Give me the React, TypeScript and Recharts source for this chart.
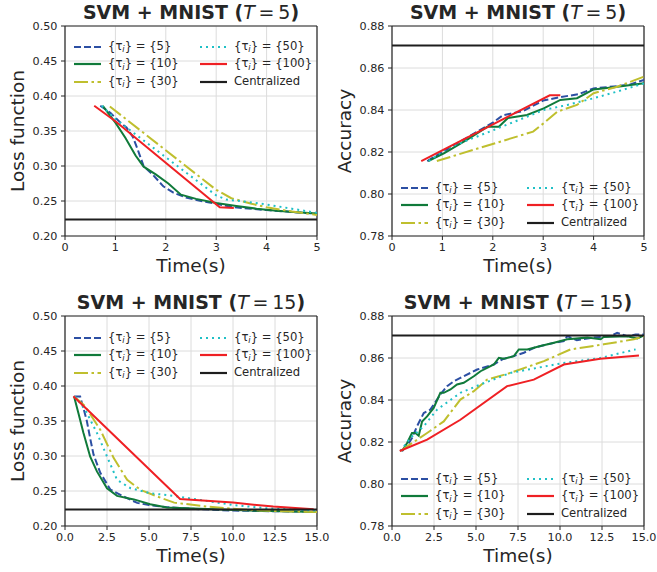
import {
  CartesianGrid,
  Legend,
  Line,
  LineChart,
  ReferenceLine,
  XAxis,
  YAxis,
} from "recharts";

type Pair = [number, number];

const shortTimeTicks = [0, 1, 2, 3, 4, 5];
const longTimeTicks = [0, 2.5, 5, 7.5, 10, 12.5, 15];
const lossTicks = [0.2, 0.25, 0.3, 0.35, 0.4, 0.45, 0.5];
const accTicks = [0.78, 0.8, 0.82, 0.84, 0.86, 0.88];
const tauLabels = ["5", "10", "30", "50", "100"];

const centralizedLoss = 0.2235;
const centralizedAcc = 0.8707;

// T = 5, loss
const lossT5Tau5: Pair[] = [[0.7, 0.386], [0.9, 0.376], [1.1, 0.362], [1.22, 0.355], [1.35, 0.341], [1.45, 0.322], [1.56, 0.3], [1.75, 0.287], [1.95, 0.271], [2.15, 0.262], [2.4, 0.255], [2.7, 0.25], [3.0, 0.246], [3.35, 0.241], [3.7, 0.239], [4.0, 0.237], [4.4, 0.235], [4.7, 0.233], [5.0, 0.232]];
const lossT5Tau10: Pair[] = [[0.75, 0.386], [1.0, 0.362], [1.2, 0.34], [1.4, 0.315], [1.56, 0.299], [1.8, 0.288], [2.05, 0.275], [2.3, 0.259], [2.6, 0.253], [3.0, 0.247], [3.4, 0.243], [3.8, 0.239], [4.2, 0.236], [4.6, 0.234], [5.0, 0.232]];
const lossT5Tau30: Pair[] = [[0.89, 0.385], [3.0, 0.266], [3.3, 0.254], [3.7, 0.246], [4.0, 0.241], [4.5, 0.235], [5.0, 0.23]];
const lossT5Tau50: Pair[] = [[0.73, 0.386], [1.0, 0.367], [3.0, 0.258], [3.2, 0.252], [3.6, 0.249], [4.0, 0.245], [4.5, 0.239], [5.0, 0.233]];
const lossT5Tau100: Pair[] = [[0.58, 0.386], [1.0, 0.364], [3.07, 0.241], [3.35, 0.24]];

// T = 5, accuracy
const accT5Tau5: Pair[] = [[0.7, 0.8157], [1.0, 0.82], [1.5, 0.827], [2.0, 0.834], [2.2, 0.8375], [2.6, 0.8395], [3.0, 0.8445], [3.35, 0.8462], [3.7, 0.8475], [4.0, 0.8503], [4.4, 0.8512], [4.7, 0.852], [5.0, 0.8543]];
const accT5Tau10: Pair[] = [[0.72, 0.8157], [1.03, 0.8194], [1.5, 0.826], [1.89, 0.832], [2.12, 0.832], [2.3, 0.8362], [2.68, 0.8376], [3.01, 0.8408], [3.34, 0.8448], [3.67, 0.8456], [4.0, 0.8498], [4.4, 0.8508], [5.0, 0.8527]];
const accT5Tau30: Pair[] = [[0.89, 0.8157], [2.8, 0.8297], [3.01, 0.8337], [3.28, 0.8392], [3.67, 0.8424], [4.0, 0.848], [4.47, 0.8511], [5.0, 0.8559]];
const accT5Tau50: Pair[] = [[0.73, 0.8157], [1.09, 0.8217], [2.02, 0.8305], [3.01, 0.84], [3.48, 0.8424], [4.0, 0.8456], [4.5, 0.849], [5.0, 0.8527]];
const accT5Tau100: Pair[] = [[0.58, 0.8157], [3.13, 0.847], [3.34, 0.847]];

// T = 15, loss
const lossT15Tau5: Pair[] = [[0.55, 0.385], [0.9, 0.385], [1.1, 0.368], [1.3, 0.35], [1.5, 0.325], [1.7, 0.302], [2.1, 0.276], [2.7, 0.252], [3.5, 0.242], [4.3, 0.233], [5.0, 0.23], [6.0, 0.227], [8.0, 0.224], [10.0, 0.222], [12.5, 0.221], [15.0, 0.2205]];
const lossT15Tau10: Pair[] = [[0.54, 0.385], [0.8, 0.361], [1.1, 0.333], [1.5, 0.299], [1.9, 0.278], [2.5, 0.254], [3.1, 0.243], [4.1, 0.238], [5.07, 0.231], [6.06, 0.2265], [8.05, 0.2245], [11.0, 0.222], [13.0, 0.221], [15.0, 0.22]];
const lossT15Tau30: Pair[] = [[0.55, 0.385], [1.2, 0.371], [2.1, 0.3375], [2.9, 0.297], [3.7, 0.2659], [4.5, 0.2516], [5.5, 0.242], [6.5, 0.2334], [8.45, 0.2277], [11.0, 0.2229], [13.0, 0.221], [15.0, 0.22]];
const lossT15Tau50: Pair[] = [[0.6, 0.385], [1.2, 0.366], [1.9, 0.333], [2.5, 0.2993], [3.1, 0.2659], [3.9, 0.254], [5.07, 0.2468], [6.5, 0.243], [8.05, 0.2372], [10.0, 0.23], [12.0, 0.2253], [15.0, 0.222]];
const lossT15Tau100: Pair[] = [[0.5, 0.3853], [6.85, 0.2387], [10.0, 0.2334], [12.4, 0.2277], [14.8, 0.2238]];

// T = 15, accuracy
const accT15Tau5: Pair[] = [[0.6, 0.8157], [1.0, 0.8195], [1.2, 0.822], [1.49, 0.8275], [1.89, 0.8338], [2.28, 0.8354], [2.88, 0.8426], [3.28, 0.8466], [3.7, 0.849], [4.07, 0.8505], [5.07, 0.8545], [6.06, 0.8569], [6.6, 0.8595], [7.25, 0.8609], [7.85, 0.8625], [8.5, 0.865], [9.24, 0.8665], [10.23, 0.8681], [10.43, 0.8704], [11.0, 0.8685], [12.0, 0.8697], [13.0, 0.8705], [13.4, 0.872], [14.0, 0.8704], [14.5, 0.8712], [15.0, 0.8712]];
const accT15Tau10: Pair[] = [[0.6, 0.8157], [0.9, 0.8195], [1.19, 0.8243], [1.39, 0.8243], [1.59, 0.823], [1.79, 0.8298], [2.09, 0.8322], [2.48, 0.8362], [2.88, 0.8434], [3.08, 0.8434], [3.48, 0.845], [3.87, 0.8474], [4.27, 0.8482], [4.87, 0.8513], [5.27, 0.8537], [5.66, 0.8553], [6.06, 0.8569], [6.36, 0.8601], [6.66, 0.8596], [7.25, 0.8609], [7.55, 0.8641], [8.05, 0.8641], [8.84, 0.8657], [9.64, 0.8673], [10.43, 0.8689], [11.62, 0.8697], [12.42, 0.8689], [12.6, 0.87], [14.0, 0.8704], [14.6, 0.8693], [15.0, 0.8708]];
const accT15Tau30: Pair[] = [[0.5, 0.8157], [2.09, 0.8243], [3.08, 0.8298], [4.07, 0.8402], [4.87, 0.8442], [5.66, 0.8497], [7.05, 0.8529], [9.04, 0.8585], [10.63, 0.8641], [12.6, 0.8665], [14.4, 0.8689], [15.0, 0.8704]];
const accT15Tau50: Pair[] = [[0.5, 0.8157], [1.09, 0.8219], [1.89, 0.8275], [2.68, 0.8354], [4.07, 0.8434], [5.27, 0.8474], [7.05, 0.8529], [10.03, 0.8574], [12.4, 0.86], [14.5, 0.8641]];
const accT15Tau100: Pair[] = [[0.46, 0.8157], [2.09, 0.8211], [4.07, 0.8306], [6.85, 0.8466], [8.44, 0.8497], [10.23, 0.8569], [12.4, 0.8596], [14.7, 0.8612]];

const seriesStyles = [
  { color: "#2c4fa3", dash: "7 3" },
  { color: "#107a3a", dash: undefined },
  { color: "#bfbf2e", dash: "14 3.5 2.5 3.5" },
  { color: "#1fc0c6", dash: "2 4" },
  { color: "#ef2024", dash: undefined },
];
const centralColor = "#1e1e1e";
const ink = "#262626";
const font = "DejaVu Sans";

const toPoints = (pairs: Pair[]) => pairs.map(([t, v]) => ({ t, v }));

function LegendSwatch({ color, dash }: { color: string; dash?: string }) {
  return (
    <svg width={27} height={6} style={{ marginRight: 7, flex: "none" }}>
      <line x1={0} y1={3} x2={27} y2={3} stroke={color} strokeWidth={2.2} strokeDasharray={dash} />
    </svg>
  );
}

function TauText({ tau }: { tau: string }) {
  return (
    <span>
      {"{τ"}
      <i style={{ fontSize: "0.72em", position: "relative", top: "0.3em" }}>i</i>
      {"} = {" + tau + "}"}
    </span>
  );
}

function LegendBox() {
  const items = [
    ...tauLabels.map((tau, i) => (
      <div key={tau} style={{ display: "flex", alignItems: "center" }}>
        <LegendSwatch color={seriesStyles[i].color} dash={seriesStyles[i].dash} />
        <TauText tau={tau} />
      </div>
    )),
    <div key="c" style={{ display: "flex", alignItems: "center" }}>
      <LegendSwatch color={centralColor} />
      <span>Centralized</span>
    </div>,
  ];
  return (
    <div
      style={{
        display: "grid",
        gridTemplateColumns: "126px auto",
        gridTemplateRows: "repeat(3, 17.5px)",
        gridAutoFlow: "column",
        fontFamily: font,
        fontSize: 11.6,
        color: ink,
        lineHeight: "17.5px",
        whiteSpace: "nowrap",
      }}
    >
      {items}
    </div>
  );
}

type PanelProps = {
  left: number;
  top: number;
  horizon: string;
  yLabel: string;
  xTicks: number[];
  yTicks: number[];
  series: Pair[][];
  centralized: number;
  legendTop: number;
};

function Panel({ left, top, horizon, yLabel, xTicks, yTicks, series, centralized, legendTop }: PanelProps) {
  const xMax = xTicks[xTicks.length - 1];
  const yMin = yTicks[0];
  const yMax = yTicks[yTicks.length - 1];
  const longAxis = xMax > 5;
  return (
    <div style={{ position: "absolute", left, top, width: 330, height: 282 }}>
      <div
        style={{
          position: "absolute",
          left: 0,
          top: 3,
          width: 382,
          textAlign: "center",
          fontFamily: font,
          fontWeight: "bold",
          fontSize: 19,
          lineHeight: "19px",
          color: ink,
          whiteSpace: "nowrap",
        }}
      >
        SVM + MNIST (
        <span style={{ fontWeight: "normal" }}>
          <i>T</i>
          {"\u2009=\u2009" + horizon}
        </span>
        )
      </div>
      <LineChart width={330} height={282} margin={{ top: 26, right: 13, bottom: 0, left: 0 }}>
        <CartesianGrid stroke="#dcdcdc" strokeWidth={1} />
        <XAxis
          type="number"
          dataKey="t"
          domain={[0, xMax]}
          ticks={xTicks}
          interval={0}
          allowDataOverflow
          height={46}
          tickSize={4}
          tickMargin={3}
          tickFormatter={(v: number) => (longAxis ? v.toFixed(1) : String(v))}
          tick={{ fill: ink, fontSize: 11.2, fontFamily: font }}
          tickLine={{ stroke: ink }}
          axisLine={{ stroke: ink, strokeWidth: 1.2 }}
          label={{
            value: "Time(s)",
            position: "insideBottom",
            offset: 10,
            style: { fill: ink, fontSize: 18.5, fontFamily: font },
          }}
        />
        <YAxis
          type="number"
          domain={[yMin, yMax]}
          ticks={yTicks}
          interval={0}
          allowDataOverflow
          width={65}
          tickSize={4}
          tickMargin={3.5}
          tickFormatter={(v: number) => v.toFixed(2)}
          tick={{ fill: ink, fontSize: 11.2, fontFamily: font }}
          tickLine={{ stroke: ink }}
          axisLine={{ stroke: ink, strokeWidth: 1.2 }}
          label={{
            value: yLabel,
            angle: -90,
            position: "insideLeft",
            offset: 17,
            style: { fill: ink, fontSize: 18.5, fontFamily: font, textAnchor: "middle" },
          }}
        />
        <ReferenceLine y={yMax} stroke={ink} strokeWidth={1.2} />
        <ReferenceLine x={xMax} stroke={ink} strokeWidth={1.2} />
        {series.map((pairs, i) => (
          <Line
            key={tauLabels[i]}
            name={`tau ${tauLabels[i]}`}
            data={toPoints(pairs)}
            dataKey="v"
            type="linear"
            stroke={seriesStyles[i].color}
            strokeWidth={2}
            strokeDasharray={seriesStyles[i].dash}
            dot={false}
            activeDot={false}
            isAnimationActive={false}
          />
        ))}
        <ReferenceLine y={centralized} stroke={centralColor} strokeWidth={2} />
        <Legend
          layout="horizontal"
          verticalAlign="middle"
          align="center"
          wrapperStyle={{ top: legendTop, left: 74, width: "auto", height: "auto" }}
          content={() => <LegendBox />}
        />
      </LineChart>
    </div>
  );
}

export default function App() {
  return (
    <div
      style={{
        position: "absolute",
        left: 0,
        top: 0,
        width: 657,
        height: 572,
        overflow: "hidden",
        background: "#fff",
      }}
    >
      <Panel
        left={0}
        top={0}
        horizon="5"
        yLabel="Loss function"
        xTicks={shortTimeTicks}
        yTicks={lossTicks}
        series={[lossT5Tau5, lossT5Tau10, lossT5Tau30, lossT5Tau50, lossT5Tau100]}
        centralized={centralizedLoss}
        legendTop={38}
      />
      <Panel
        left={327}
        top={0}
        horizon="5"
        yLabel="Accuracy"
        xTicks={shortTimeTicks}
        yTicks={accTicks}
        series={[accT5Tau5, accT5Tau10, accT5Tau30, accT5Tau50, accT5Tau100]}
        centralized={centralizedAcc}
        legendTop={179}
      />
      <Panel
        left={0}
        top={290}
        horizon="15"
        yLabel="Loss function"
        xTicks={longTimeTicks}
        yTicks={lossTicks}
        series={[lossT15Tau5, lossT15Tau10, lossT15Tau30, lossT15Tau50, lossT15Tau100]}
        centralized={centralizedLoss}
        legendTop={39}
      />
      <Panel
        left={327}
        top={290}
        horizon="15"
        yLabel="Accuracy"
        xTicks={longTimeTicks}
        yTicks={accTicks}
        series={[accT15Tau5, accT15Tau10, accT15Tau30, accT15Tau50, accT15Tau100]}
        centralized={centralizedAcc}
        legendTop={180}
      />
    </div>
  );
}
